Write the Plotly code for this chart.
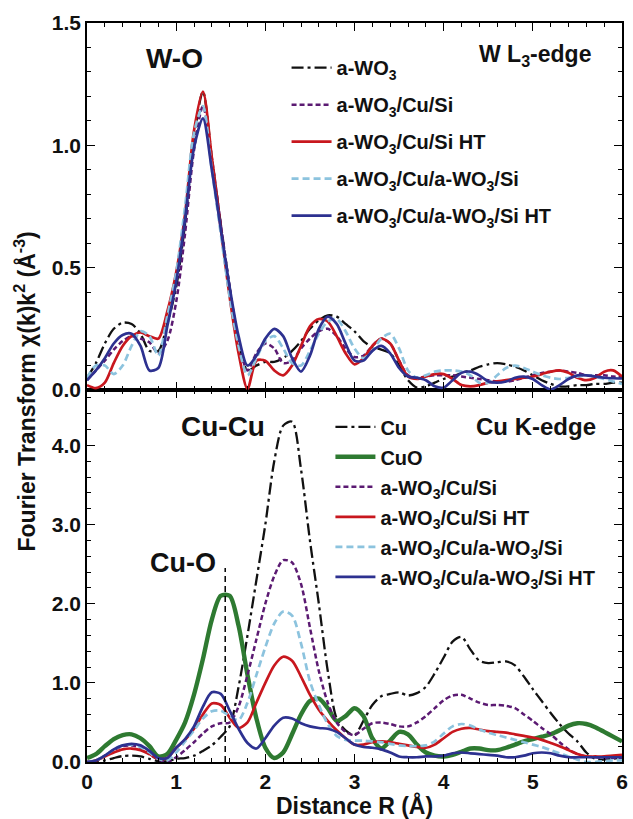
import plotly.graph_objects as go

R = [round(i * 0.1, 1) for i in range(61)]

# ---- W L3-edge (top panel) ----
top_names = ["a-WO<sub>3</sub>", "a-WO<sub>3</sub>/Cu/Si", "a-WO<sub>3</sub>/Cu/Si HT",
             "a-WO<sub>3</sub>/Cu/a-WO<sub>3</sub>/Si", "a-WO<sub>3</sub>/Cu/a-WO<sub>3</sub>/Si HT"]
w_awo3 = [0.05, 0.11, 0.19, 0.25, 0.275, 0.27, 0.23, 0.16, 0.16, 0.27,
          0.42, 0.68, 1.03, 1.22, 0.95, 0.68, 0.42, 0.2, 0.08, 0.1,
          0.115, 0.115, 0.13, 0.16, 0.2, 0.25, 0.285, 0.305, 0.3, 0.27,
          0.24, 0.2, 0.175, 0.165, 0.15, 0.1, 0.04, 0.01, 0.015, 0.03,
          0.045, 0.055, 0.07, 0.08, 0.095, 0.105, 0.11, 0.105, 0.095, 0.08,
          0.06, 0.04, 0.025, 0.015, 0.015, 0.02, 0.02, 0.025, 0.025, 0.03, 0.03]
w_cusi = [0.04, 0.08, 0.12, 0.165, 0.2, 0.22, 0.21, 0.195, 0.15, 0.2,
          0.36, 0.64, 0.98, 1.16, 0.95, 0.68, 0.42, 0.2, 0.08, 0.15,
          0.19, 0.17, 0.11, 0.12, 0.17, 0.21, 0.24, 0.25, 0.22, 0.17,
          0.135, 0.14, 0.18, 0.21, 0.19, 0.12, 0.06, 0.05, 0.055, 0.06,
          0.06, 0.06, 0.055, 0.05, 0.045, 0.04, 0.035, 0.034, 0.04, 0.05,
          0.06, 0.07, 0.075, 0.08, 0.075, 0.07, 0.06, 0.06, 0.06, 0.055, 0.054]
w_cusi_ht = [0.02, 0.008, 0.03, 0.11, 0.18, 0.22, 0.235, 0.22, 0.21, 0.32,
             0.48, 0.72, 1.06, 1.22, 0.95, 0.66, 0.38, 0.15, 0.005, 0.12,
             0.12, 0.08, 0.06, 0.1, 0.18, 0.26, 0.29, 0.28, 0.22, 0.15,
             0.105, 0.13, 0.18, 0.21, 0.19, 0.12, 0.055, 0.045, 0.055, 0.065,
             0.065, 0.045, 0.02, 0.015, 0.02, 0.03, 0.035, 0.04, 0.045, 0.05,
             0.055, 0.065, 0.075, 0.08, 0.07, 0.05, 0.04, 0.05, 0.075, 0.08, 0.055]
w_cuawo3 = [0.05, 0.1, 0.1, 0.065, 0.1, 0.18, 0.24, 0.22, 0.14, 0.3,
            0.48, 0.75, 1.05, 1.16, 0.9, 0.64, 0.38, 0.18, 0.06, 0.13,
            0.2, 0.22, 0.17, 0.11, 0.1, 0.16, 0.23, 0.28, 0.29, 0.24,
            0.17, 0.13, 0.16, 0.21, 0.23, 0.17, 0.08, 0.05, 0.06, 0.075,
            0.08, 0.08, 0.075, 0.06, 0.03, 0.03, 0.06, 0.09, 0.1, 0.09,
            0.075, 0.06, 0.05, 0.045, 0.05, 0.055, 0.06, 0.055, 0.045, 0.035, 0.025]
w_cuawo3_ht = [0.04, 0.08, 0.13, 0.19, 0.225, 0.23, 0.18, 0.08, 0.09, 0.26,
               0.44, 0.7, 0.99, 1.11, 0.9, 0.66, 0.42, 0.22, 0.1, 0.14,
               0.21, 0.25, 0.22, 0.13, 0.075, 0.14, 0.25, 0.3, 0.27, 0.19,
               0.12, 0.12, 0.16, 0.18, 0.15, 0.09, 0.055, 0.05, 0.04, 0.015,
               0.01, 0.04, 0.07, 0.075, 0.06, 0.035, 0.03, 0.035, 0.05, 0.055,
               0.045, 0.02, 0.002, 0.02, 0.045, 0.06, 0.06, 0.055, 0.05, 0.048, 0.047]

# ---- Cu K-edge (bottom panel) ----
bot_names = ["Cu", "CuO"] + top_names[1:]
cu_foil = [0.0, 0.0, 0.02, 0.05, 0.075, 0.08, 0.07, 0.04, 0.01, 0.01,
           0.04, 0.05, 0.08, 0.14, 0.21, 0.32, 0.45, 0.95, 1.6, 2.3,
           3.0, 3.8, 4.25, 4.3, 3.7, 2.8, 2.0, 1.15, 0.55, 0.4,
           0.34, 0.52, 0.72, 0.83, 0.86, 0.88, 0.84, 0.87, 0.95, 1.12,
           1.32, 1.52, 1.58, 1.42, 1.28, 1.25, 1.26, 1.27, 1.22, 1.08,
           0.92, 0.77, 0.62, 0.48, 0.36, 0.26, 0.12, 0.04, 0.03, 0.04, 0.06]
cuo = [0.05, 0.1, 0.2, 0.29, 0.34, 0.35, 0.3, 0.2, 0.07, 0.1,
       0.28, 0.5, 0.85, 1.3, 1.8, 2.1, 2.1, 1.72, 1.1, 0.55,
       0.18, 0.05, 0.12, 0.35, 0.6, 0.77, 0.8, 0.68, 0.52, 0.58,
       0.68, 0.58, 0.3, 0.17, 0.27, 0.38, 0.35, 0.22, 0.12, 0.08,
       0.07, 0.09, 0.13, 0.17, 0.17, 0.15, 0.15, 0.18, 0.22, 0.26,
       0.29, 0.32, 0.35, 0.4, 0.46, 0.49, 0.48, 0.44, 0.38, 0.32, 0.26]
c_cusi = [0.0, 0.02, 0.08, 0.15, 0.2, 0.21, 0.18, 0.1, 0.03, 0.0,
          0.06, 0.15, 0.25, 0.36, 0.45, 0.49, 0.5, 0.7, 1.1, 1.55,
          2.0, 2.35, 2.55, 2.52, 2.25, 1.7, 1.15, 0.75, 0.5, 0.38,
          0.34, 0.42, 0.49, 0.5, 0.48, 0.45, 0.45, 0.5, 0.58, 0.68,
          0.78, 0.84, 0.85, 0.8, 0.75, 0.72, 0.72, 0.71, 0.68, 0.6,
          0.52, 0.43, 0.35, 0.25, 0.16, 0.1, 0.07, 0.06, 0.05, 0.05, 0.05]
c_cusi_ht = [0.0, 0.02, 0.07, 0.12, 0.16, 0.17, 0.15, 0.1, 0.04, 0.05,
             0.18, 0.28, 0.42, 0.6, 0.74, 0.72, 0.56, 0.43, 0.5, 0.75,
             1.0, 1.22, 1.33, 1.28, 1.08, 0.85, 0.66, 0.52, 0.4, 0.3,
             0.22, 0.22, 0.25, 0.26, 0.25, 0.23, 0.21, 0.19, 0.18, 0.22,
             0.3, 0.38, 0.42, 0.43, 0.41, 0.39, 0.38, 0.37, 0.35, 0.33,
             0.31, 0.28, 0.24, 0.2, 0.15, 0.1, 0.07, 0.07, 0.07, 0.08, 0.09]
c_cuawo3 = [0.0, 0.02, 0.08, 0.16, 0.21, 0.22, 0.19, 0.12, 0.04, 0.02,
            0.12, 0.26, 0.4, 0.55, 0.64, 0.65, 0.58, 0.53, 0.75, 1.1,
            1.45, 1.75, 1.9, 1.85, 1.5, 1.02, 0.72, 0.48, 0.33, 0.28,
            0.27, 0.27, 0.26, 0.25, 0.23, 0.21, 0.2, 0.2, 0.21, 0.26,
            0.36, 0.45, 0.48, 0.46, 0.41, 0.37, 0.34, 0.31, 0.28, 0.25,
            0.22, 0.19, 0.15, 0.11, 0.07, 0.03, 0.0, 0.0, 0.01, 0.02, 0.02]
c_cuawo3_ht = [0.0, 0.02, 0.08, 0.16, 0.21, 0.23, 0.21, 0.14, 0.05, 0.05,
               0.18, 0.29, 0.45, 0.7, 0.88, 0.86, 0.65, 0.42, 0.24, 0.17,
               0.3, 0.46, 0.56, 0.55, 0.49, 0.45, 0.43, 0.42, 0.38, 0.3,
               0.22, 0.19, 0.18, 0.16, 0.12, 0.07, 0.06, 0.06, 0.07, 0.07,
               0.08, 0.11, 0.12, 0.11, 0.1, 0.09, 0.08, 0.06, 0.06, 0.08,
               0.11, 0.12, 0.11, 0.08, 0.06, 0.06, 0.06, 0.06, 0.06, 0.06, 0.06]

cu_o_marker_R = 1.55
cu_o_marker_top = 2.45

BLACK, PURPLE, RED, LBLUE, BLUE, GREEN = "#111111", "#5b1a72", "#c8171e", "#8cc3de", "#2d3190", "#2e7a31"
styles_top = [(BLACK, "12px,4px,3px,4px", 2.3), (PURPLE, "5px,3px", 2.5), (RED, "solid", 2.7),
              (LBLUE, "7px,4px", 2.7), (BLUE, "solid", 2.7)]
styles_bot = [(BLACK, "12px,4px,3px,4px", 2.3), (GREEN, "solid", 4.4), (PURPLE, "5px,3px", 2.5),
              (RED, "solid", 2.7), (LBLUE, "7px,4px", 2.7), (BLUE, "solid", 2.7)]

FONT = "Liberation Sans, Arial, sans-serif"
fig = go.Figure()
for i, (name, ys) in enumerate(zip(top_names, [w_awo3, w_cusi, w_cusi_ht, w_cuawo3, w_cuawo3_ht])):
    c, d, w = styles_top[i]
    fig.add_trace(go.Scatter(x=R, y=ys, name=name, mode="lines", xaxis="x2", yaxis="y2",
                             line=dict(color=c, dash=d, width=w, shape="spline", smoothing=0.8),
                             legend="legend", legendgroup="t%d" % i))
for i, (name, ys) in enumerate(zip(bot_names, [cu_foil, cuo, c_cusi, c_cusi_ht, c_cuawo3, c_cuawo3_ht])):
    c, d, w = styles_bot[i]
    fig.add_trace(go.Scatter(x=R, y=ys, name=name, mode="lines", xaxis="x", yaxis="y",
                             line=dict(color=c, dash=d, width=w, shape="spline", smoothing=0.8),
                             legend="legend2", legendgroup="b%d" % i))

split = (762 - 390) / 739
minor_x = dict(dtick=0.2, ticks="inside", ticklen=4, tickwidth=1.2, tickcolor="black")
axis_common = dict(showline=True, linewidth=1.6, linecolor="black", mirror="ticks",
                   ticks="inside", ticklen=8, tickwidth=1.4, tickcolor="black",
                   showgrid=False, zeroline=False,
                   tickfont=dict(family=FONT, size=21, color="#111", weight="bold"))
fig.update_layout(
    width=633, height=819, margin=dict(l=87, r=5, t=23, b=57),
    plot_bgcolor="white", paper_bgcolor="white", showlegend=True,
    font=dict(family=FONT, color="#111"),
    xaxis=dict(range=[0, 6], dtick=1, tick0=0, anchor="y", minor=minor_x,
               title=dict(text="Distance R (Å)", font=dict(family=FONT, size=23, weight="bold"), standoff=2),
               **axis_common),
    xaxis2=dict(range=[0, 6], dtick=1, tick0=0, anchor="y2", matches="x", showticklabels=False,
                minor=minor_x, **axis_common),
    yaxis=dict(domain=[0, split], range=[0, 4.7], dtick=1, tick0=0, tickformat=".1f", anchor="x",
               minor=dict(dtick=0.2, ticks="inside", ticklen=4, tickwidth=1.2, tickcolor="black"),
               **axis_common),
    yaxis2=dict(domain=[split, 1], range=[0, 1.5], dtick=0.5, tick0=0, tickformat=".1f", anchor="x2",
                minor=dict(dtick=0.1, ticks="inside", ticklen=4, tickwidth=1.2, tickcolor="black"),
                **axis_common),
    legend=dict(x=0.373, y=0.966, xanchor="left", yanchor="top", bgcolor="rgba(0,0,0,0)",
                font=dict(family=FONT, size=20, weight="bold"), tracegroupgap=8, itemwidth=40),
    legend2=dict(x=0.455, y=0.48, xanchor="left", yanchor="top", bgcolor="rgba(0,0,0,0)",
                 font=dict(family=FONT, size=20, weight="bold"), tracegroupgap=1, itemwidth=40),
)

fig.add_shape(type="line", xref="x", yref="y", x0=cu_o_marker_R, x1=cu_o_marker_R, y0=0, y1=cu_o_marker_top,
              line=dict(color="black", width=1.5, dash="6px,4px"))

ann = [
    dict(text="W-O", x=0.976, y=1.355, xref="x2", yref="y2", size=28),
    dict(text="W L<sub>3</sub>-edge", x=5.02, y=1.367, xref="x2", yref="y2", size=23),
    dict(text="Cu-Cu", x=1.52, y=4.24, xref="x", yref="y", size=28),
    dict(text="Cu-O", x=1.075, y=2.52, xref="x", yref="y", size=27),
    dict(text="Cu K-edge", x=5.04, y=4.24, xref="x", yref="y", size=24),
]
for a in ann:
    fig.add_annotation(text=a["text"], x=a["x"], y=a["y"], xref=a["xref"], yref=a["yref"], showarrow=False,
                       font=dict(family=FONT, size=a["size"], color="#111", weight="bold"))
fig.add_annotation(text="Fourier Transform χ(k)k<sup>2</sup> (Å<sup>-3</sup>)", textangle=-90,
                   x=-0.115, y=0.502, xref="paper", yref="paper", xanchor="center", yanchor="middle",
                   showarrow=False, font=dict(family=FONT, size=23, color="#111", weight="bold"))

fig.write_html("out.html")
